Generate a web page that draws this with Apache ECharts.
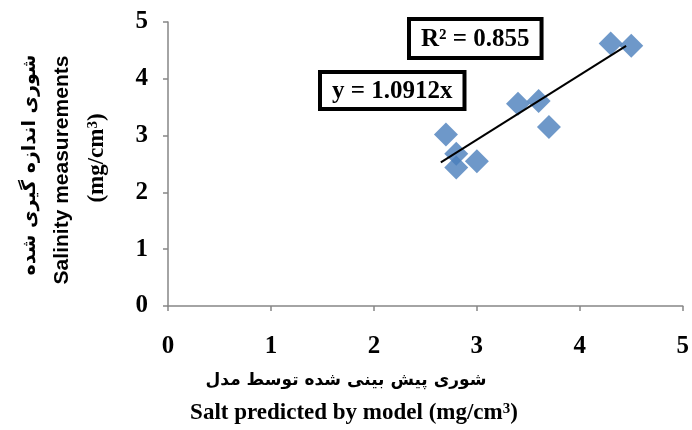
<!DOCTYPE html>
<html>
<head>
<meta charset="utf-8">
<script src="https://cdn.jsdelivr.net/npm/echarts@6/dist/echarts.min.js"></script>
<style>
  html, body { margin: 0; padding: 0; background: #fff; }
  #chart { width: 692px; height: 430px; }
</style>
</head>
<body>
<div id="chart"></div>
<script>
// predicted (x) vs measured (y) salinity
const predicted = [2.7, 2.8, 2.8, 3.0, 3.4, 3.6, 3.7, 4.3, 4.5];
const measured = [3.02, 2.68, 2.44, 2.55, 3.56, 3.61, 3.15, 4.62, 4.58];
// trendline ends as drawn in the picture
const trendX = [2.65, 4.45];
const trendY = [2.53, 4.58];
const axisTicks = [0, 1, 2, 3, 4, 5];

const chart = echarts.init(document.getElementById("chart"));

const serif = "Liberation Serif";
const axisCommon = {
  type: "value",
  min: axisTicks[0],
  max: axisTicks[axisTicks.length - 1],
  interval: 1,
  splitLine: { show: false },
  axisLine: { show: true, lineStyle: { color: "#868686", width: 1.5 } },
  axisTick: { show: true, length: 5, lineStyle: { color: "#868686", width: 1.5 } },
  axisLabel: { fontFamily: serif, fontWeight: "bold", fontSize: 25, color: "#000" }
};

const supRich = {
  b: { font: "bold 23px 'Liberation Serif'", fill: "#000" },
  s: { font: "bold 15px 'Liberation Serif'", fill: "#000", verticalAlign: "top", padding: [0, 0, 8, 0] }
};

let option = {
  animation: false,
  grid: { left: 168, right: 9, top: 22, bottom: 124 },
  xAxis: Object.assign({}, axisCommon, {
    axisLabel: Object.assign({}, axisCommon.axisLabel, { margin: 28 })
  }),
  yAxis: Object.assign({}, axisCommon, {
    axisLabel: Object.assign({}, axisCommon.axisLabel, { margin: 20 })
  }),
  series: [
    {
      type: "line",
      data: trendX.map((x, i) => [x, trendY[i]]),
      symbol: "none",
      lineStyle: { color: "#000", width: 2 },
      z: 3
    },
    {
      type: "scatter",
      data: predicted.map((x, i) => [x, measured[i]]),
      symbol: "diamond",
      symbolSize: [24, 24],
      itemStyle: { color: "#4a7ebb" },
      z: 2
    }
  ],
  graphic: [
    {
      type: "text", left: 407, top: 17,
      style: {
        text: "R² = 0.855", font: "bold 25px 'Liberation Serif'", fill: "#000",
        backgroundColor: "#fff", borderColor: "#000", borderWidth: 4,
        padding: [6, 10, 4, 10]
      }
    },
    {
      type: "text", left: 318, top: 70,
      style: {
        text: "y = 1.0912x", font: "bold 25px 'Liberation Serif'", fill: "#000",
        backgroundColor: "#fff", borderColor: "#000", borderWidth: 4,
        padding: [5, 10, 3, 10]
      }
    },
    {
      type: "text", x: 30, y: 165, rotation: Math.PI / 2,
      style: {
        text: "شوری اندازه گیری شده", font: "bold 19px 'DejaVu Sans'", fill: "#000",
        align: "center", verticalAlign: "middle"
      }
    },
    {
      type: "text", x: 62, y: 170, rotation: Math.PI / 2,
      style: {
        text: "Salinity measurements", font: "bold 21px 'Liberation Sans'", fill: "#000",
        align: "center", verticalAlign: "middle"
      }
    },
    {
      type: "text", x: 97, y: 158, rotation: Math.PI / 2,
      style: {
        text: "{b|(mg/cm}{s|3}{b|)}", rich: supRich, fill: "#000",
        align: "center", verticalAlign: "middle"
      }
    },
    {
      type: "text", x: 346, y: 381,
      style: {
        text: "شوری پیش بینی شده توسط مدل", font: "bold 17px 'DejaVu Sans'", fill: "#000",
        align: "center", verticalAlign: "middle"
      }
    },
    {
      type: "text", x: 354, y: 413,
      style: {
        text: "{b|Salt predicted by model (mg/cm}{s|3}{b|)}", rich: supRich, fill: "#000",
        align: "center", verticalAlign: "middle"
      }
    }
  ]
};

chart.setOption(option);
</script>
</body>
</html>
